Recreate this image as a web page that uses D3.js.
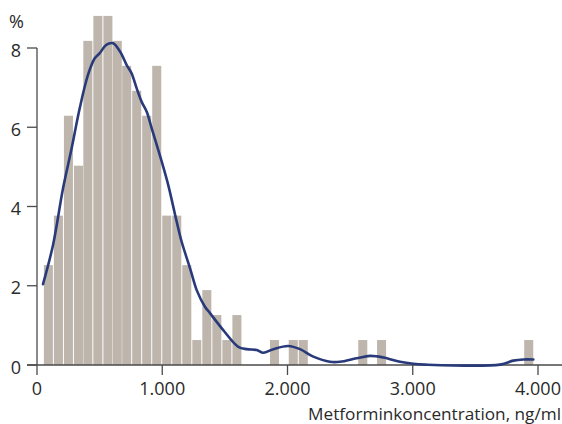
<!DOCTYPE html>
<html><head><meta charset="utf-8">
<script src="https://cdn.jsdelivr.net/npm/d3@7"></script>
<style>html,body{margin:0;padding:0;background:#fff;}svg{display:block;}</style>
</head><body>
<svg id="chart" width="562" height="424"></svg>
<script>
// Histogram bins (start of bin, ng/ml) and share of patients (%)
const binStart = [55,135,215,295,370,450,530,605,680,760,840,920,1000,1080,1160,1240,1320,1400,1480,1560,1860,2010,2090,2565,2715,3890];
const binPct   = [2.52,3.77,6.29,5.03,8.18,8.81,8.81,8.18,7.55,6.92,6.29,7.55,3.77,3.77,2.52,0.63,1.89,1.26,0.63,1.26,0.63,0.63,0.63,0.63,0.63,0.63];
const binWidth = 72;
// Density curve
const curveX = [48,128,208,274,341,407,461,501,553,607,663,716,754,796,836,876,916,996,1048,1115,1155,1222,1275,1341,1381,1487,1607,1674,1754,1807,1887,2006,2100,2206,2339,2419,2552,2659,2765,2898,3004,3100,3697,3803,3883,3963];
const curveY = [2.04,3.03,4.46,5.43,6.48,7.32,7.74,7.87,8.08,8.12,7.91,7.57,7.37,6.98,6.64,6.39,5.97,5.13,4.54,3.62,3.11,2.44,1.89,1.47,1.31,0.88,0.46,0.40,0.38,0.31,0.40,0.48,0.40,0.21,0.08,0.08,0.17,0.23,0.19,0.08,0.03,0.01,0.01,0.11,0.14,0.14];
// Ticks
const xTicks = [0,1000,2000,3000,4000];
const xTickLabels = ["0","1.000","2.000","3.000","4.000"];
const yTicks = [0,2,4,6,8];
const xTitle = "Metforminkoncentration, ng/ml";
const yUnit = "%";

const svg = d3.select("#chart");
const font = "'Open Sans', sans-serif";
const x = d3.scaleLinear().domain([0,4000]).range([37,538]);
const y = d3.scaleLinear().domain([0,8]).range([365,48]);
const axisColor = "#4a4a4a";
const textColor = "#2a2a2a";

// bars
svg.append("g").selectAll("rect").data(binStart.map((s,i)=>({s,v:binPct[i]})))
  .join("rect")
  .attr("x", d=>x(d.s))
  .attr("width", d=>x(d.s+binWidth)-x(d.s))
  .attr("y", d=>y(d.v))
  .attr("height", d=>y(0)-y(d.v))
  .attr("fill", "#beb5ad");

// axes lines
svg.append("line").attr("x1",27).attr("x2",562).attr("y1",y(0)).attr("y2",y(0))
  .attr("stroke",axisColor).attr("stroke-width",1.3);
svg.append("line").attr("x1",x(0)).attr("x2",x(0)).attr("y1",y(8)).attr("y2",y(0))
  .attr("stroke",axisColor).attr("stroke-width",1.3);

// y ticks
const yg = svg.append("g");
yg.selectAll("line").data(yTicks).join("line")
  .attr("x1",27).attr("x2",x(0)).attr("y1",d=>y(d)).attr("y2",d=>y(d))
  .attr("stroke",axisColor).attr("stroke-width",1.3);
yg.selectAll("text").data(yTicks).join("text")
  .attr("x",21).attr("y",d=>y(d)+8.5).attr("text-anchor","end")
  .attr("font-family",font).attr("font-size",18).attr("fill",textColor)
  .text(d=>d);
svg.append("text").attr("x",9).attr("y",28).attr("font-family",font).attr("font-size",18)
  .attr("fill",textColor).text(yUnit);

// x ticks
const xg = svg.append("g");
xg.selectAll("line").data(xTicks).join("line")
  .attr("x1",d=>x(d)).attr("x2",d=>x(d)).attr("y1",y(0)).attr("y2",y(0)+10)
  .attr("stroke",axisColor).attr("stroke-width",1.3);
xg.selectAll("text").data(xTicks).join("text")
  .attr("x",d=>x(d)).attr("y",395).attr("text-anchor","middle")
  .attr("font-family",font).attr("font-size",18).attr("fill",textColor)
  .text((d,i)=>xTickLabels[i]);
svg.append("text").attr("x",561).attr("y",420).attr("text-anchor","end")
  .attr("font-family",font).attr("font-size",17.2).attr("fill",textColor).text(xTitle);

// density curve
const line = d3.line().x(d=>x(d[0])).y(d=>y(d[1])).curve(d3.curveCatmullRom.alpha(0.5));
svg.append("path").datum(curveX.map((v,i)=>[v,curveY[i]]))
  .attr("d",line).attr("fill","none").attr("stroke","#293a7a").attr("stroke-width",2.6)
  .attr("stroke-linejoin","round").attr("stroke-linecap","round");
</script>
</body></html>
